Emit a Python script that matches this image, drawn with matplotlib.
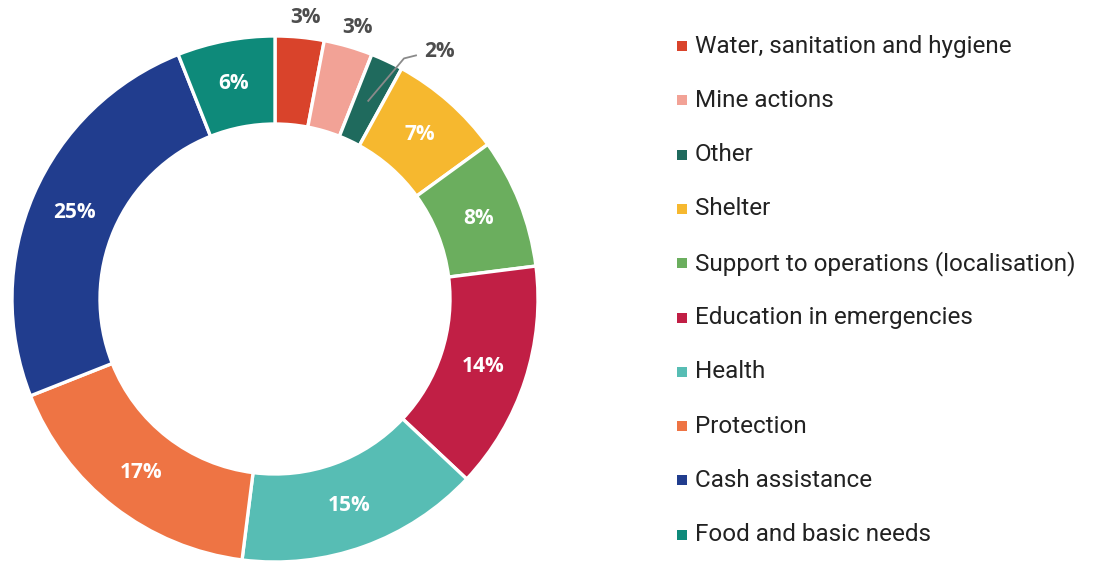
import matplotlib.pyplot as plt
import numpy as np

# Share of funding by sector (%)
categories = ['Water, sanitation and hygiene', 'Mine actions', 'Other', 'Shelter',
              'Support to operations (localisation)', 'Education in emergencies',
              'Health', 'Protection', 'Cash assistance', 'Food and basic needs']
shares = [3, 3, 2, 7, 8, 14, 15, 17, 25, 6]
colors = ['#D9432B', '#F2A296', '#1F6A5D', '#F6B82F', '#6BAE5E',
          '#C11F45', '#57BDB4', '#EE7444', '#213D8E', '#0E8A7A']

fig = plt.figure(figsize=(10.93, 5.61), dpi=100)
ax = fig.add_axes([0, 0, 1, 1])

# ring geometry in pixel units
cx, cy = 275, 262
R, W = 263, 88

wedges, _ = ax.pie(shares, colors=colors, startangle=90, counterclock=False,
                   radius=R, center=(cx, cy),
                   wedgeprops=dict(width=W, edgecolor='white', linewidth=2.4))
ax.set_xlim(0, 1093)
ax.set_ylim(0, 561)
ax.set_aspect('equal')
ax.axis('off')

lbl = dict(fontsize=15, fontweight='bold', family='Open Sans')

# percentage labels: big slices inside the ring, small ones outside
for w, v in zip(wedges, shares):
    a = np.deg2rad((w.theta1 + w.theta2) / 2)
    if v >= 5:
        r = R - W / 2
        ax.text(cx + r * np.cos(a), cy + r * np.sin(a), f'{v}%', color='white',
                ha='center', va='center', **lbl)
    elif v >= 3:
        r = R + 20
        ax.text(cx + r * np.cos(a) + 4, cy + r * np.sin(a), f'{v}%', color='#4d4d4d',
                ha='center', va='center', **lbl)
    else:
        # leader line for the smallest slice
        r0 = R - W / 2
        x0, y0 = cx + r0 * np.cos(a), cy + r0 * np.sin(a)
        b = a - np.deg2rad(3)
        x1, y1 = cx + (R + 10) * np.cos(b), cy + (R + 10) * np.sin(b)
        ax.plot([x0, x1, x1 + 12], [y0, y1, y1 + 3], color='#8a8a8a', lw=1.3)
        ax.text(x1 + 20, y1 + 7, f'{v}%', color='#4d4d4d',
                ha='left', va='center', **lbl)

# legend
for i, (lab, c) in enumerate(zip(categories, colors)):
    y = 561 - (46 + i * 54.3)
    ax.scatter([682], [y], marker='s', s=55, color=c, linewidths=0)
    ax.text(695, y, lab, ha='left', va='center', fontsize=17.5, color='#222222',
            family='Roboto')

fig.savefig('out.png', dpi=100)
